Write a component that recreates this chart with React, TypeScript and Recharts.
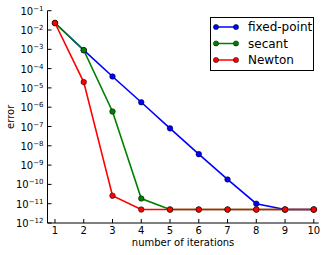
import React from 'react';
import { LineChart, Line, XAxis, YAxis } from 'recharts';

const iterations = [1, 2, 3, 4, 5, 6, 7, 8, 9, 10];
const fixedPoint = [2.3e-2, 9e-4, 3.9e-5, 1.8e-6, 8e-8, 3.7e-9, 1.8e-10, 1e-11, 5e-12, 5e-12];
const secant = [2.3e-2, 9e-4, 6e-7, 1.85e-11, 5e-12, 5e-12, 5e-12, 5e-12, 5e-12, 5e-12];
const newton = [2.3e-2, 2e-5, 2.6e-11, 5e-12, 5e-12, 5e-12, 5e-12, 5e-12, 5e-12, 5e-12];

const xTicks = [1, 2, 3, 4, 5, 6, 7, 8, 9, 10];
const yTicks = [1e-1, 1e-2, 1e-3, 1e-4, 1e-5, 1e-6, 1e-7, 1e-8, 1e-9, 1e-10, 1e-11, 1e-12];

const series = [
  { key: 'fixedPoint', name: 'fixed-point', color: '#0000ff' },
  { key: 'secant', name: 'secant', color: '#008000' },
  { key: 'newton', name: 'Newton', color: '#ff0000' },
];

const data = iterations.map((it, i) => ({
  iter: it,
  fixedPoint: fixedPoint[i],
  secant: secant[i],
  newton: newton[i],
}));

const FONT = 'DejaVu Sans, sans-serif';
const TICK = 4;

const BottomTick = (props: any) => {
  const { x, y, payload } = props;
  return (
    <g>
      <line x1={x} y1={y} x2={x} y2={y - TICK} stroke="#000" strokeWidth={1} />
      <text x={x} y={y + 11} textAnchor="middle" fontSize={10} fontFamily={FONT} fill="#000">
        {payload.value}
      </text>
    </g>
  );
};

const TopTick = (props: any) => {
  const { x, y } = props;
  return <line x1={x} y1={y} x2={x} y2={y + TICK} stroke="#000" strokeWidth={1} />;
};

const LeftTick = (props: any) => {
  const { x, y, payload } = props;
  const exp = Math.round(Math.log10(payload.value));
  return (
    <g>
      <line x1={x} y1={y} x2={x + TICK} y2={y} stroke="#000" strokeWidth={1} />
      <text x={x - 4} y={y + 4} textAnchor="end" fontSize={10} fontFamily={FONT} fill="#000">
        <tspan>10</tspan>
        <tspan fontSize={7} dy={-4}>{'\u2212' + Math.abs(exp)}</tspan>
      </text>
    </g>
  );
};

const RightTick = (props: any) => {
  const { x, y } = props;
  return <line x1={x} y1={y} x2={x - TICK} y2={y} stroke="#000" strokeWidth={1} />;
};

const XLabel = (props: any) => {
  const vb = props.viewBox || {};
  const cx = (vb.x ?? 47.5) + (vb.width ?? 271) / 2;
  return (
    <text x={cx} y={246} textAnchor="middle" fontSize={10} fontFamily={FONT} fill="#000">
      number of iterations
    </text>
  );
};

const YLabel = (props: any) => {
  const vb = props.viewBox || {};
  const cy = (vb.y ?? 10.7) + (vb.height ?? 212) / 2;
  return (
    <text
      x={14}
      y={cy}
      transform={`rotate(-90 14 ${cy})`}
      textAnchor="middle"
      fontSize={10}
      fontFamily={FONT}
      fill="#000"
    >
      error
    </text>
  );
};

const LegendBox = () => (
  <div
    style={{
      position: 'absolute',
      left: 210,
      top: 16.5,
      width: 104,
      height: 54,
      boxSizing: 'border-box',
      border: '1px solid #000',
      background: '#fff',
    }}
  >
    <svg width={102} height={52} style={{ display: 'block' }}>
      {series.map((s, i) => {
        const cy = 9 + i * 16.5;
        return (
          <g key={s.key}>
            <line x1={5} y1={cy} x2={25} y2={cy} stroke={s.color} strokeWidth={1.5} />
            <circle cx={5} cy={cy} r={2.6} fill={s.color} stroke="#000" strokeWidth={0.5} />
            <circle cx={25} cy={cy} r={2.6} fill={s.color} stroke="#000" strokeWidth={0.5} />
            <text x={37} y={cy + 4.3} fontSize={12} fontFamily={FONT} fill="#000">
              {s.name}
            </text>
          </g>
        );
      })}
    </svg>
  </div>
);

export default function App() {
  return (
    <div style={{ position: 'absolute', left: 0, top: 0, width: 327, height: 255, background: '#fff' }}>
      <LineChart
        width={327}
        height={255}
        data={data}
        margin={{ top: 10.7, right: 8.3, bottom: 0, left: 0 }}
      >
        <XAxis
          dataKey="iter"
          type="number"
          domain={[0.74, 10.17]}
          ticks={xTicks}
          allowDataOverflow
          height={32}
          tickSize={0}
          tickMargin={0}
          tickLine={false}
          axisLine={{ stroke: '#000', strokeWidth: 1 }}
          tick={<BottomTick />}
          interval={0}
          label={<XLabel />}
        />
        <XAxis
          xAxisId="top"
          orientation="top"
          dataKey="iter"
          type="number"
          domain={[0.74, 10.17]}
          ticks={xTicks}
          allowDataOverflow
          height={0}
          tickSize={0}
          tickMargin={0}
          tickLine={false}
          axisLine={{ stroke: '#000', strokeWidth: 1 }}
          tick={<TopTick />}
          interval={0}
        />
        <YAxis
          type="number"
          scale="log"
          domain={[1e-12, 1e-1]}
          ticks={yTicks}
          allowDataOverflow
          width={47.5}
          tickSize={0}
          tickMargin={0}
          tickLine={false}
          axisLine={{ stroke: '#000', strokeWidth: 1 }}
          tick={<LeftTick />}
          interval={0}
          label={<YLabel />}
        />
        <YAxis
          yAxisId="right"
          orientation="right"
          type="number"
          scale="log"
          domain={[1e-12, 1e-1]}
          ticks={yTicks}
          allowDataOverflow
          width={0}
          tickSize={0}
          tickMargin={0}
          tickLine={false}
          axisLine={{ stroke: '#000', strokeWidth: 1 }}
          tick={<RightTick />}
          interval={0}
        />
        {series.map((s) => (
          <Line
            key={s.key}
            dataKey={s.key}
            name={s.name}
            stroke={s.color}
            strokeWidth={1.6}
            dot={{ r: 2.8, fill: s.color, stroke: '#000', strokeWidth: 0.5 }}
            activeDot={false}
            isAnimationActive={false}
          />
        ))}
      </LineChart>
      <LegendBox />
    </div>
  );
}
